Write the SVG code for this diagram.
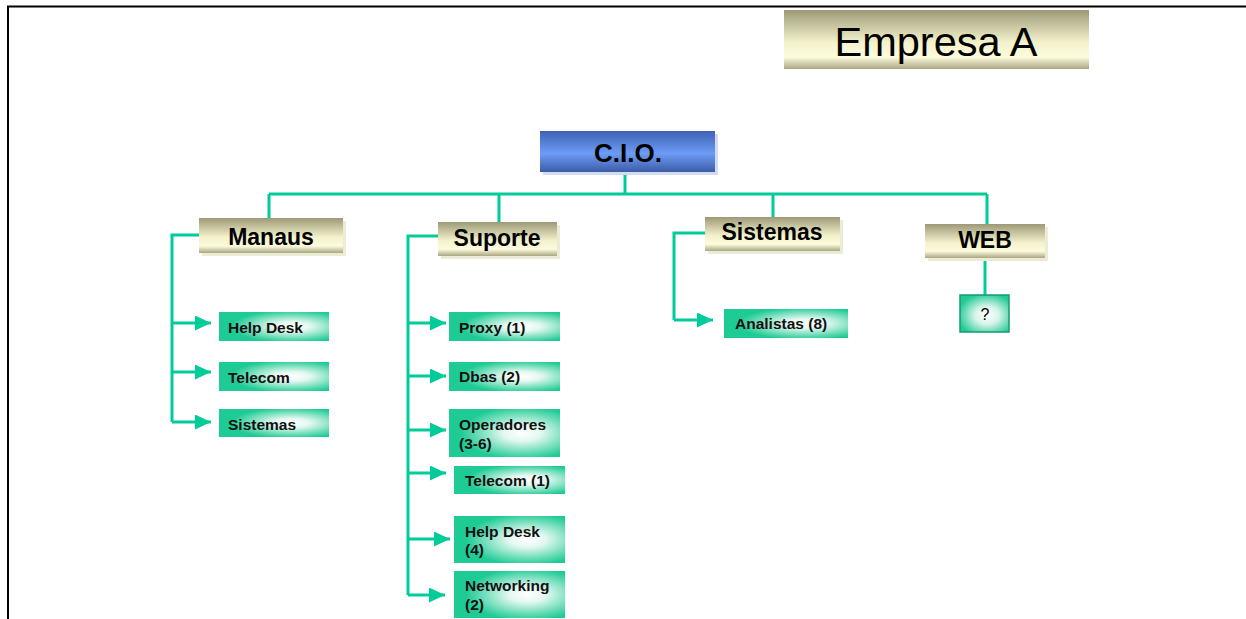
<svg xmlns="http://www.w3.org/2000/svg" width="1246" height="619" viewBox="0 0 1246 619">
<defs>
<linearGradient id="gKhaki" x1="0" y1="0" x2="0" y2="1">
<stop offset="0" stop-color="#9d9977"/>
<stop offset="0.55" stop-color="#f4f2cc"/>
<stop offset="0.8" stop-color="#fcfbdc"/>
<stop offset="1" stop-color="#aaa683"/>
</linearGradient>
<linearGradient id="gBlue" x1="0" y1="0" x2="0" y2="1">
<stop offset="0" stop-color="#3f61b3"/>
<stop offset="0.55" stop-color="#6c9cf6"/>
<stop offset="1" stop-color="#3d5ca6"/>
</linearGradient>
<radialGradient id="gGreen" cx="0.66" cy="0.5" r="0.55" fx="0.66" fy="0.5">
<stop offset="0" stop-color="#ffffff"/>
<stop offset="0.3" stop-color="#e4f8f0"/>
<stop offset="1" stop-color="#1fcb95"/>
</radialGradient>
<radialGradient id="gQ" cx="0.55" cy="0.55" r="0.6">
<stop offset="0" stop-color="#ffffff"/>
<stop offset="0.4" stop-color="#d8f4ea"/>
<stop offset="1" stop-color="#22c996"/>
</radialGradient>
<marker id="arr" markerUnits="userSpaceOnUse" markerWidth="16" markerHeight="15" refX="16" refY="7.5" orient="auto">
<path d="M0,0 L16,7.5 L0,15 z" fill="#00cc99"/>
</marker>
<style>
.k{fill:url(#gKhaki)}
.ks{fill:#ecebd6}
.g{fill:url(#gGreen)}
.big{font-family:"Liberation Sans",Arial,sans-serif;font-weight:bold;font-size:23px;fill:#000;text-anchor:middle}
.sm{font-family:"Liberation Sans",Arial,sans-serif;font-weight:bold;font-size:15.5px;fill:#111}
.ln{stroke:#00cc99;stroke-width:3;fill:none}
.la{stroke:#00cc99;stroke-width:3;fill:none;marker-end:url(#arr)}
</style>
</defs>
<rect width="1246" height="619" fill="#fff"/>
<path d="M8,619 V6.5 H1246" fill="none" stroke="#000" stroke-width="2"/>

<g id="connectors">
<path class="ln" d="M625,172 V194 M269,194 H987 M269,194 V218 M499,194 V222 M773,194 V217 M987,194 V224"/>
<path class="ln" d="M199,235 H172 V422"/>
<path class="la" d="M172,323 H211"/>
<path class="la" d="M172,372 H211"/>
<path class="la" d="M172,422 H211"/>
<path class="ln" d="M438,236 H408 V595"/>
<path class="la" d="M408,323 H446"/>
<path class="la" d="M408,376 H446"/>
<path class="la" d="M408,430 H446"/>
<path class="la" d="M408,473 H446"/>
<path class="la" d="M408,539 H450"/>
<path class="la" d="M408,595 H445"/>
<path class="ln" d="M705,233 H674 V320"/>
<path class="la" d="M674,320 H713"/>
<path class="ln" d="M985,258 V295"/>
</g>

<g id="empresa">
<rect x="784" y="10" width="305" height="59" class="k"/>
<text x="936" y="56" font-family="Liberation Sans,Arial,sans-serif" font-size="41.5" text-anchor="middle" fill="#000">Empresa A</text>
</g>

<g id="cio">
<rect x="543" y="134" width="175" height="41" fill="#d3dcee"/>
<rect x="540" y="131" width="175" height="41" fill="url(#gBlue)"/>
<text x="628" y="162" font-family="Liberation Sans,Arial,sans-serif" font-weight="bold" font-size="26" text-anchor="middle" fill="#000">C.I.O.</text>
</g>

<g id="manaus">
<rect x="202" y="221" width="144" height="35" class="ks"/>
<rect x="199" y="218" width="144" height="35" class="k"/>
<text x="271" y="245" class="big">Manaus</text>
</g>
<g id="suporte">
<rect x="441" y="225" width="119" height="34" class="ks"/>
<rect x="438" y="222" width="119" height="34" class="k"/>
<text x="497" y="246" class="big">Suporte</text>
</g>
<g id="sistemas">
<rect x="708" y="220" width="135" height="34" class="ks"/>
<rect x="705" y="217" width="135" height="34" class="k"/>
<text x="772" y="240" class="big">Sistemas</text>
</g>
<g id="web">
<rect x="928" y="227" width="120" height="34" class="ks"/>
<rect x="925" y="224" width="120" height="34" class="k"/>
<text x="985" y="248" class="big">WEB</text>
</g>

<g id="m-helpdesk">
<rect x="219" y="312" width="110" height="29" class="g"/>
<text x="228" y="333" class="sm">Help Desk</text>
</g>
<g id="m-telecom">
<rect x="219" y="362" width="110" height="29" class="g"/>
<text x="228" y="383" class="sm">Telecom</text>
</g>
<g id="m-sistemas">
<rect x="219" y="409" width="110" height="28" class="g"/>
<text x="228" y="430" class="sm">Sistemas</text>
</g>

<g id="s-proxy">
<rect x="449" y="312" width="111" height="29" class="g"/>
<text x="459" y="333" class="sm">Proxy (1)</text>
</g>
<g id="s-dbas">
<rect x="449" y="362" width="111" height="29" class="g"/>
<text x="459" y="382" class="sm">Dbas (2)</text>
</g>
<g id="s-operadores">
<rect x="449" y="409" width="111" height="48" class="g"/>
<text x="459" y="430" class="sm">Operadores</text>
<text x="459" y="449" class="sm">(3-6)</text>
</g>
<g id="s-telecom">
<rect x="454" y="466" width="111" height="28" class="g"/>
<text x="465" y="486" class="sm">Telecom (1)</text>
</g>
<g id="s-helpdesk">
<rect x="454" y="516" width="111" height="47" class="g"/>
<text x="465" y="537" class="sm">Help Desk</text>
<text x="465" y="555" class="sm">(4)</text>
</g>
<g id="s-networking">
<rect x="454" y="571" width="111" height="47" class="g"/>
<text x="465" y="591" class="sm">Networking</text>
<text x="465" y="610" class="sm">(2)</text>
</g>

<g id="analistas">
<rect x="724" y="309" width="124" height="29" class="g"/>
<text x="735" y="329" class="sm">Analistas (8)</text>
</g>

<g id="question">
<rect x="960" y="295" width="49" height="37" fill="url(#gQ)" stroke="#139c73" stroke-width="1.5"/>
<text x="985" y="320" font-family="Liberation Sans,Arial,sans-serif" font-size="16" text-anchor="middle" fill="#000">?</text>
</g>
</svg>
